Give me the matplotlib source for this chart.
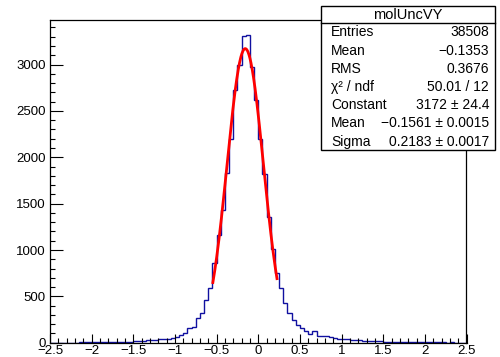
import numpy as np
import matplotlib
matplotlib.use('Agg')
import matplotlib.pyplot as plt
from matplotlib.patches import Rectangle
from matplotlib.lines import Line2D
from matplotlib.ticker import MultipleLocator

plt.rcParams['font.family'] = ['Liberation Sans', 'DejaVu Sans']

# histogram molUncVY: 100 bins from -2.5 to 2.5
x_min, x_max, n_bins = -2.5, 2.5, 100
counts = [
    0, 0, 0, 0, 0, 0, 0,
    6, 8, 5, 7, 9, 6, 8, 7, 10, 8, 9, 11, 12,
    18, 20, 22, 25, 28, 30, 38, 40, 45, 55,
    66, 85, 110, 155, 165, 270, 325, 465, 587,
    855, 1160, 1430, 1830, 2200, 2730, 3000, 3305, 3315, 2975, 2615, 2200, 1825, 1360, 1015, 750,
    589, 427, 320, 248, 194, 158, 129, 93, 122,
    75, 72, 70, 60, 55, 45,
    40, 36, 32, 28, 25, 22, 18, 16, 15, 14,
    12, 10, 7, 6, 5, 5, 4, 4, 5, 4,
    4, 3, 4, 3, 3, 2, 3, 2, 2, 2,
]

# gaussian fit result
fit_const = 3172
fit_mean = -0.1561
fit_sigma = 0.2183
fit_range = (-0.545, 0.225)

# stats box
stats_title = 'molUncVY'
stats_labels = ['Entries', 'Mean', 'RMS', 'χ² / ndf', 'Constant', 'Mean', 'Sigma']
stats_values = ['38508', '\u22120.1353', '0.3676', '50.01 / 12', '3172 ± 24.4',
                '\u22120.1561 ± 0.0015', '0.2183 ± 0.0017']

x_ticks = [-2.5, -2, -1.5, -1, -0.5, 0, 0.5, 1, 1.5, 2, 2.5]
y_ticks = [0, 500, 1000, 1500, 2000, 2500, 3000]

fig = plt.figure(figsize=(5, 3.57), dpi=100)
ax = fig.add_axes([0.1, 0.04, 0.833, 0.904])

edges = np.linspace(x_min, x_max, n_bins + 1)
ax.stairs(counts, edges, color='#1010a0', linewidth=1.0)

xf = np.linspace(fit_range[0], fit_range[1], 200)
yf = fit_const * np.exp(-0.5 * ((xf - fit_mean) / fit_sigma) ** 2)
ax.plot(xf, yf, color='#ff0000', linewidth=2.0)

ax.set_xlim(x_min, x_max)
ax.set_ylim(0, max(counts) * 1.05)

ax.set_xticks(x_ticks)
ax.set_xticklabels([('%g' % t).replace('-', '\u2212') for t in x_ticks])
ax.set_yticks(y_ticks)
ax.set_yticklabels(['%d' % t for t in y_ticks])
ax.xaxis.set_minor_locator(MultipleLocator(0.1))
ax.yaxis.set_minor_locator(MultipleLocator(100))
ax.tick_params(axis='x', which='major', direction='in', length=6.7, width=0.8, pad=2, labelsize=9.5)
ax.tick_params(axis='x', which='minor', direction='in', length=3.6, width=0.8)
ax.tick_params(axis='y', which='major', direction='in', length=9, width=0.8, pad=3, labelsize=9.5)
ax.tick_params(axis='y', which='minor', direction='in', length=3.6, width=0.8)
for s in ax.spines.values():
    s.set_linewidth(0.9)

# stats box in figure coordinates
bx0, bx1 = 0.642, 0.99
by0, by1 = 0.58, 0.984
sep = 0.936
fig.add_artist(Rectangle((bx0, by0), bx1 - bx0, by1 - by0, transform=fig.transFigure,
                         facecolor='white', edgecolor='black', linewidth=1.0, zorder=5))
fig.add_artist(Line2D([bx0, bx1], [sep, sep], transform=fig.transFigure,
                      color='black', linewidth=1.0, zorder=6))
fig.text((bx0 + bx1) / 2, 1 - 15 / 357, stats_title, ha='center', va='center',
         fontsize=10.5, zorder=7)
for i, (lab, val) in enumerate(zip(stats_labels, stats_values)):
    yy = 1 - (32.3 + i * 18.23) / 357
    fig.text(bx0 + 0.02, yy, lab, ha='left', va='center', fontsize=10, zorder=7)
    fig.text(bx1 - 0.012, yy, val, ha='right', va='center', fontsize=10, zorder=7)

fig.savefig('out.png', dpi=100)
